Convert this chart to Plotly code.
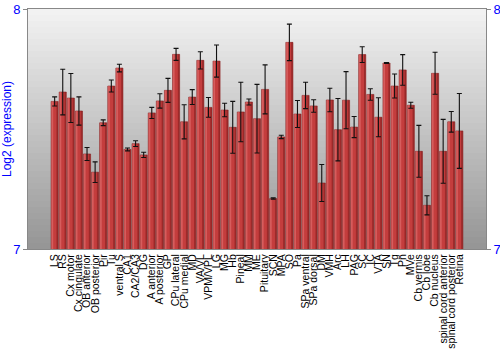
import plotly.graph_objects as go

regions = ["LS", "RS", "Cx motor", "Cx cingulate", "OB anterior", "OB posterior", "Pir", "Tu",
           "ventral S", "CA1", "CA2/CA3", "DG", "A anterior", "A posterior", "GP", "CPu lateral",
           "CPu medial", "MD", "VA/VL", "VPM/VPL", "LG", "MG", "Hb", "Pineal", "MM", "ME",
           "Pituitary", "SCN", "MPA", "SO", "Pa", "SPa ventral", "SPa dorsal", "DM", "VMH", "Arc",
           "LH", "PAG", "SC", "IC", "VTA", "SN", "Tg", "Pn", "MVe", "Cb vermis", "Cb lobe",
           "Cb nucleus", "spinal cord anterior", "spinal cord posterior", "Retina"]

expression = [7.615, 7.654, 7.629, 7.575, 7.396, 7.320, 7.526, 7.679,
              7.754, 7.415, 7.439, 7.392, 7.567, 7.617, 7.661, 7.811,
              7.530, 7.633, 7.786, 7.590, 7.783, 7.579, 7.507, 7.571, 7.6125, 7.543,
              7.665, 7.210, 7.467, 7.861, 7.5625, 7.640, 7.596, 7.275, 7.621, 7.497,
              7.620, 7.508, 7.810, 7.644, 7.549, 7.775, 7.679, 7.746, 7.599, 7.407, 7.182,
              7.732, 7.407, 7.530, 7.492]

error = [0.019, 0.095, 0.102, 0.059, 0.027, 0.043, 0.012, 0.025,
         0.016, 0.006, 0.012, 0.011, 0.023, 0.030, 0.050, 0.025,
         0.071, 0.031, 0.036, 0.041, 0.067, 0.028, 0.108, 0.124, 0.0125, 0.143,
         0.102, 0.003, 0.007, 0.076, 0.056, 0.055, 0.026, 0.077, 0.049, 0.130,
         0.119, 0.044, 0.033, 0.024, 0.081, 0.002, 0.050, 0.064, 0.0125, 0.108, 0.040,
         0.0875, 0.133, 0.043, 0.156]

y_range = [7, 8]
y_ticks = [7, 8]
y_title = "Log2 (expression)"

fig = go.Figure()

# main bars
fig.add_trace(go.Bar(
    x=regions, y=expression, width=0.88,
    marker=dict(color="#c43d3d", line=dict(color="#8a2626", width=0.6)),
    hoverinfo="skip", showlegend=False,
))
# light left highlight (shading only)
fig.add_trace(go.Bar(
    x=regions, y=expression, width=0.22, offset=-0.4,
    marker=dict(color="rgba(230,120,120,0.55)", line=dict(width=0)),
    hoverinfo="skip", showlegend=False,
))
# dark right shading
fig.add_trace(go.Bar(
    x=regions, y=expression, width=0.2, offset=0.22,
    marker=dict(color="rgba(110,20,20,0.45)", line=dict(width=0)),
    hoverinfo="skip", showlegend=False,
))
# error bars on top
fig.add_trace(go.Bar(
    x=regions, y=expression, width=0.88,
    marker=dict(color="rgba(0,0,0,0)", line=dict(width=0)),
    error_y=dict(type="data", array=error, color="#111111", thickness=1.1, width=2.5),
    hoverinfo="skip", showlegend=False,
))

fig.add_trace(go.Scatter(
    x=regions, y=expression, yaxis="y2", mode="markers",
    marker=dict(opacity=0), hoverinfo="skip", showlegend=False,
))

# vertical background gradient in the plot area
n_bands = 40
shapes = []
for k in range(n_bands):
    t = k / (n_bands - 1)
    g = int(round(242 - (242 - 150) * t))
    shapes.append(dict(
        type="rect", xref="x domain", yref="y domain",
        x0=0, x1=1, y0=1 - (k + 1) / n_bands, y1=1 - k / n_bands,
        fillcolor=f"rgb({g},{g},{g})", line=dict(width=0), layer="below",
    ))

fig.update_layout(
    width=500, height=350,
    margin=dict(l=28, r=14, t=9, b=101),
    paper_bgcolor="white", plot_bgcolor="rgba(0,0,0,0)",
    shapes=shapes, barmode="overlay",
    font=dict(family="Liberation Sans, Arial, sans-serif"),
    xaxis=dict(
        tickmode="array", tickvals=regions, ticktext=regions,
        tickangle=-90, tickfont=dict(size=10.5, color="black"),
        showline=True, linecolor="#888", mirror=True, ticks="",
        showgrid=False, automargin=False,
    ),
    yaxis=dict(
        range=y_range, tickvals=y_ticks, ticktext=[str(v) for v in y_ticks],
        tickfont=dict(size=13, color="blue"), ticks="outside", ticklen=4,
        tickcolor="#888", showline=True, linecolor="#888", showgrid=False,
        zeroline=False,
        title=dict(text=y_title, font=dict(size=12, color="blue"), standoff=2),
        automargin=False,
    ),
    yaxis2=dict(
        range=y_range, tickvals=y_ticks, ticktext=[str(v) for v in y_ticks],
        overlaying="y", side="right",
        tickfont=dict(size=13, color="blue"), ticks="outside", ticklen=4,
        tickcolor="#888", showline=True, linecolor="#888", showgrid=False,
        zeroline=False, automargin=False,
    ),
)

fig.write_html("out.html")
